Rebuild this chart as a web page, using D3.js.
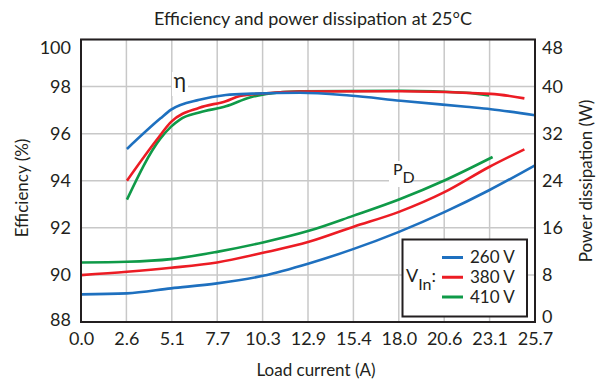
<!DOCTYPE html>
<html>
<head>
<meta charset="utf-8">
<script src="https://cdn.jsdelivr.net/npm/d3@7"></script>
<style>
  body { margin: 0; background: #fff; }
  svg text { font-family: Lato, "Open Sans", sans-serif; fill: #231f20; }
</style>
</head>
<body>
<svg id="chart" width="606" height="382"></svg>
<script>
// data
const xTickLabels = ["0.0","2.6","5.1","7.7","10.3","12.9","15.4","18.0","20.6","23.1","25.7"]
const effTicks = [88,90,92,94,96,98,100]
const pdTicks = [0,8,16,24,32,40,48]
const seriesNames = ["260 V","380 V","410 V"]
const seriesColors = ["#1e70bf","#ec1c24","#0f9a48"]

// efficiency (%) vs load current (A)
const eff260 = [[2.6,95.35],[4.5,96.65],[5.1,97.02],[6.7,97.44],[8.2,97.64],[9.7,97.70],[12.4,97.74],[15.2,97.62],[18.1,97.40],[21.8,97.14],[23.2,97.04],[25.7,96.78]]
const eff380 = [[2.6,94.0],[4.3,95.75],[5.1,96.5],[6.7,97.1],[8.2,97.38],[9.0,97.6],[10.5,97.72],[12.4,97.79],[18.1,97.8],[23.2,97.69],[25.1,97.5]]
const eff410 = [[2.6,93.2],[4.5,95.8],[5.1,96.3],[5.6,96.6],[6.7,96.9],[8.2,97.16],[9.6,97.55],[10.5,97.69],[12.4,97.8],[18.1,97.82],[21.8,97.74],[23.1,97.62]]

// power dissipation (W) vs load current (A)
const pd260 = [[0,4.7],[2.6,4.87],[5.1,5.72],[7.7,6.56],[10.3,7.85],[12.9,9.95],[15.4,12.38],[18.0,15.32],[20.6,18.71],[23.1,22.39],[25.7,26.63]]
const pd380 = [[0,7.97],[2.6,8.53],[5.1,9.21],[7.7,10.12],[10.3,11.75],[12.9,13.62],[15.4,16.16],[18.0,18.71],[20.6,22.10],[23.1,26.34],[25.1,29.34]]
const pd410 = [[0,10.12],[2.6,10.23],[5.1,10.68],[7.7,11.92],[10.3,13.52],[12.9,15.49],[15.4,18.03],[18.0,20.81],[20.6,24.08],[23.3,28.03]]

const effSeries = [eff260, eff380, eff410]
const pdSeries = [pd260, pd380, pd410]

const svg = d3.select("#chart")
const plotLeft = 81, plotRight = 535, plotTop = 39.5, plotBottom = 322

const x = d3.scaleLinear().domain([0,25.7]).range([plotLeft,plotRight])
const yEff = d3.scaleLinear().domain([88,100]).range([plotBottom,plotTop])
const yPd = d3.scaleLinear().domain([0,48]).range([plotBottom,plotTop])
const xTickValues = xTickLabels.map((d,i) => i*2.57)

// grid
const grid = svg.append("g").attr("stroke","#c8c8c8").attr("stroke-width",1.5)
grid.selectAll(".gx").data(xTickValues).join("line")
  .attr("x1", d => x(d)).attr("x2", d => x(d))
  .attr("y1", plotTop).attr("y2", plotBottom)
grid.selectAll(".gy").data(effTicks).join("line")
  .attr("x1", plotLeft).attr("x2", plotRight)
  .attr("y1", d => yEff(d)).attr("y2", d => yEff(d))

// curves
const effLine = d3.line().x(d => x(d[0])).y(d => yEff(d[1])).curve(d3.curveMonotoneX)
const pdLine = d3.line().x(d => x(d[0])).y(d => yPd(d[1])).curve(d3.curveMonotoneX)

pdSeries.forEach((s,i) => {
  svg.append("path").attr("d", pdLine(s)).attr("fill","none")
    .attr("stroke", seriesColors[i]).attr("stroke-width",2.6)
})
// 410 first so blue sits on top
;[2,1,0].forEach(i => {
  svg.append("path").attr("d", effLine(effSeries[i])).attr("fill","none")
    .attr("stroke", seriesColors[i]).attr("stroke-width",2.6)
})

// frame
svg.append("rect").attr("x",plotLeft).attr("y",plotTop)
  .attr("width",plotRight-plotLeft).attr("height",plotBottom-plotTop)
  .attr("fill","none").attr("stroke","#231f20").attr("stroke-width",2)

// axes
const fs = 18
const xAxis = svg.append("g").attr("transform",`translate(0,${plotBottom})`)
  .call(d3.axisBottom(x).tickValues(xTickValues).tickSize(0).tickPadding(10)
    .tickFormat((d,i) => xTickLabels[i]))
const lAxis = svg.append("g").attr("transform",`translate(${plotLeft},0)`)
  .call(d3.axisLeft(yEff).tickValues(effTicks).tickSize(0).tickPadding(10).tickFormat(d3.format("d")))
const rAxis = svg.append("g").attr("transform",`translate(${plotRight},0)`)
  .call(d3.axisRight(yPd).tickValues(pdTicks).tickSize(0).tickPadding(7))
;[xAxis,lAxis,rAxis].forEach(a => {
  a.select(".domain").remove()
  a.attr("font-size",fs).attr("font-family",null)
})
// top and bottom labels sit a bit inside the frame
lAxis.selectAll(".tick text").filter(d => d === 100).attr("dy","0.8em")
lAxis.selectAll(".tick text").filter(d => d === 88).attr("dy","0.2em")
rAxis.selectAll(".tick text").filter(d => d === 48).attr("dy","0.8em")
rAxis.selectAll(".tick text").filter(d => d === 0).attr("dy","0.05em")

// titles
svg.append("text").attr("x",313).attr("y",25).attr("text-anchor","middle")
  .attr("font-size",18).text("Efficiency and power dissipation at 25°C")
svg.append("text").attr("x",316).attr("y",376).attr("text-anchor","middle")
  .attr("font-size",17).text("Load current (A)")
svg.append("text").attr("transform","translate(28,188) rotate(-90)").attr("text-anchor","middle")
  .attr("font-size",17).text("Efficiency (%)")
svg.append("text").attr("transform","translate(592,181) rotate(-90)").attr("text-anchor","middle")
  .attr("font-size",17).text("Power dissipation (W)")

// curve labels
svg.append("rect").attr("x",172).attr("y",72).attr("width",16).attr("height",24).attr("fill","#fff")
svg.append("text").attr("x",180).attr("y",88).attr("text-anchor","middle").attr("font-size",21).text("η")
svg.append("rect").attr("x",389).attr("y",161).attr("width",24).attr("height",26).attr("fill","#fff")
const pdLabel = svg.append("text").attr("x",393).attr("y",175).attr("font-size",16)
pdLabel.append("tspan").text("P")
pdLabel.append("tspan").attr("dy",8).text("D")

// legend
const lg = svg.append("g")
lg.append("rect").attr("x",402.5).attr("y",239.5).attr("width",124.5).attr("height",77)
  .attr("fill","#fff").attr("stroke","#231f20").attr("stroke-width",2)
const vLabel = lg.append("text").attr("x",406).attr("y",282).attr("font-size",18)
vLabel.append("tspan").text("V")
vLabel.append("tspan").attr("dy",8).attr("font-size",16).text("In")
vLabel.append("tspan").attr("dy",-8).text(":")
const rowY = d3.scalePoint().domain(seriesNames).range([257.5,297])
seriesNames.forEach((n,i) => {
  lg.append("line").attr("x1",442).attr("x2",463).attr("y1",rowY(n)).attr("y2",rowY(n))
    .attr("stroke",seriesColors[i]).attr("stroke-width",3)
  lg.append("text").attr("x",470).attr("y",rowY(n)).attr("dy","0.35em")
    .attr("font-size",17).text(n)
})
</script>
</body>
</html>
